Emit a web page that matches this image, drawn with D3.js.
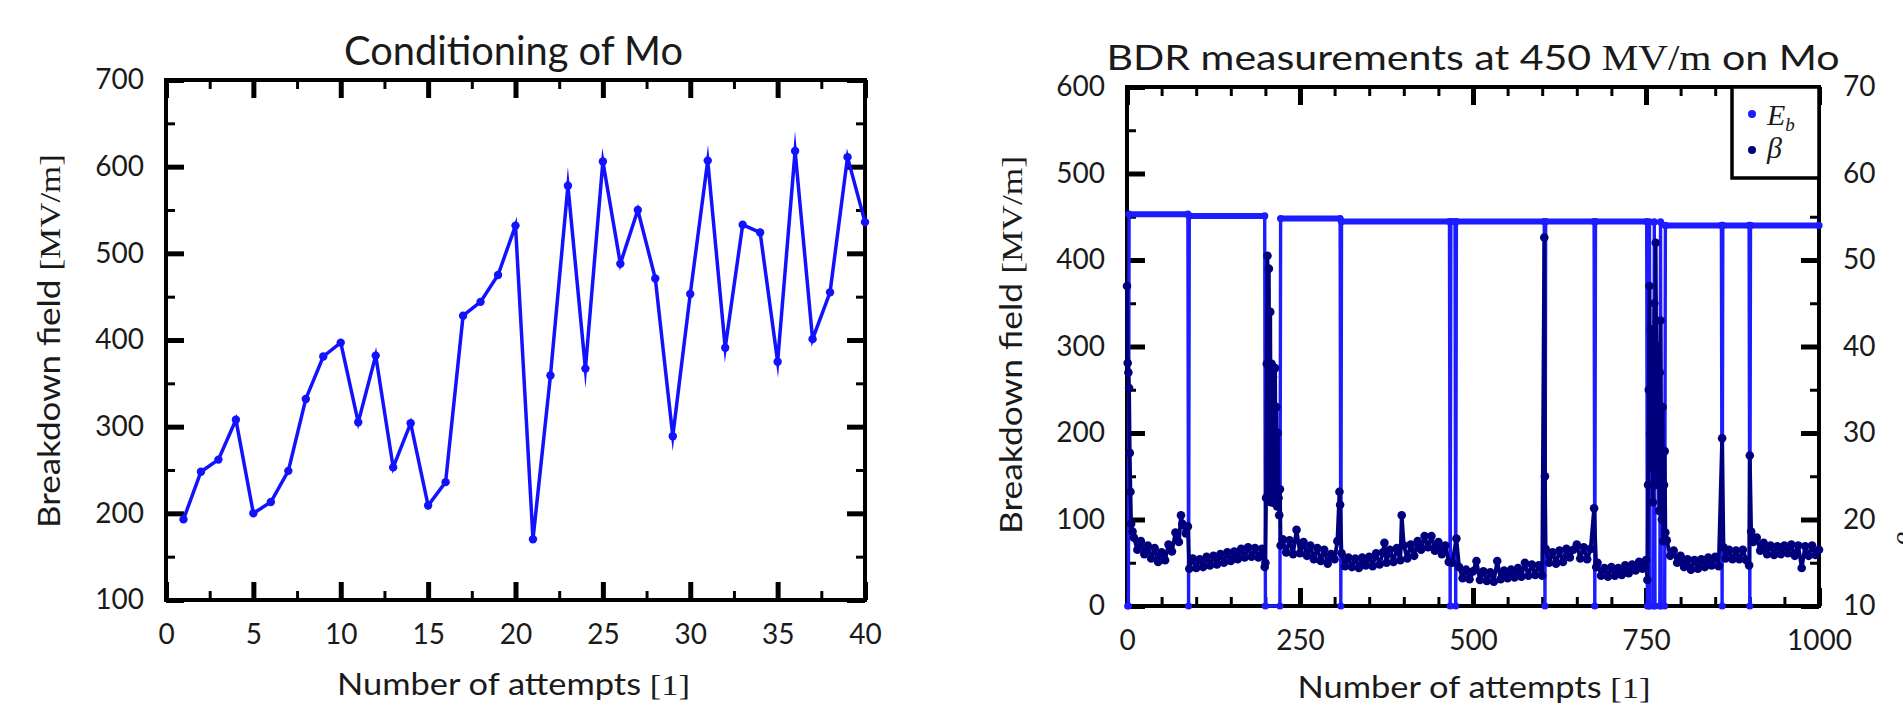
<!DOCTYPE html>
<html><head><meta charset="utf-8">
<script src="https://cdn.jsdelivr.net/npm/d3@7"></script>
<style>
html,body{margin:0;padding:0;background:#fff;overflow:hidden;}
svg{display:block;}
</style></head><body>
<svg id="chart" width="1903" height="713"></svg>
<script>
// ---------- data : left panel ----------
const condAttempts = [1,2,3,4,5,6,7,8,9,10,11,12,13,14,15,16,17,18,19,20,21,22,23,24,25,26,27,28,29,30,31,32,33,34,35,36,37,38,39,40];
const condField = [193,248,262,308,200,213,249,332,381,397,305,382,253,304,209,236,428,444,475,532,170,359,578,367,606,488,550,471,289,453,607,391,533,524,375,618,401,455,611,536];
const condXTicks = [0,5,10,15,20,25,30,35,40];
const condYTicks = [100,200,300,400,500,600,700];

// ---------- data : right panel ----------
const ebAttempts = [1,2,3,88,89,90,199,200,221,222,308,309,310,466,467,468,474,475,476,603,604,605,675,676,677,
  751,752,754,755,756,761,762,763,770,771,772,777,778,859,860,861,899,900,901,1000];
const ebField   = [0,0,453,453,0,451,451,0,0,448,448,0,444.5,444.5,0,444.5,444.5,0,444.5,444.5,0,444.5,444.5,0,444.5,
  444.5,0,0,444,0,0,444,0,0,444,0,0,440,440,0,440,440,0,440,440];

const betaAttempts = [0,1,2,3,4,5,6,8,10,15,20,25,30,35,40,45,50,55,60,65,70,75,78,80,85,88,
  90,95,100,105,110,115,120,125,130,135,140,145,150,155,160,165,170,175,180,185,190,195,199,
  200,201,202,203,204,205,206,207,208,209,210,211,212,213,214,215,216,217,218,219,220,221,222,
  225,230,235,240,245,250,255,260,265,270,275,280,285,290,295,300,304,307,308,
  310,315,320,325,330,335,340,345,350,355,360,365,370,372,375,380,385,390,395,397,
  400,405,410,415,420,425,430,435,440,445,450,455,460,465,470,476,
  480,485,490,495,500,505,510,515,520,525,530,535,540,545,550,555,560,565,570,575,580,585,590,595,600,603,604,
  605,610,615,620,625,630,635,640,645,650,655,660,665,670,675,678,
  680,685,690,695,700,705,710,715,720,725,730,735,740,745,750,
  752,753,754,755,756,757,758,759,760,761,762,763,764,765,766,767,768,769,770,771,772,773,774,775,776,777,778,779,
  780,785,790,795,800,805,810,815,820,825,830,835,840,845,850,855,860,
  862,865,870,875,880,885,890,895,899,900,902,905,910,915,920,925,930,935,940,945,950,955,960,965,970,975,980,985,990,995,1000];
const betaValues = [47,38.1,37,35.2,27.7,23.2,19.5,18.6,17.9,16.5,17.5,16.0,17.0,15.5,16.7,15.1,16.2,15.3,17.1,16.3,18.5,17.4,20.5,19.5,18.4,19.2,
  14.3,15.5,14.4,15.4,14.5,15.7,14.7,15.8,14.8,16.0,15.0,16.2,15.2,16.3,15.4,16.6,15.6,16.8,15.7,16.7,15.6,16.6,14.5,
  15.0,22.5,38.0,50.5,23.0,49.0,28.0,44.0,22.0,38.0,23.0,36.5,21.9,30.4,37.5,24.0,33.0,21.5,30.0,22.5,20.5,23.5,17.0,
  17.7,16.2,17.6,16.0,18.8,16.1,17.4,15.8,17.0,15.4,16.7,15.2,16.5,14.9,16.0,15.4,17.5,23.2,21.7,
  16.1,14.6,15.6,14.5,15.5,14.4,15.6,14.7,15.7,14.6,16.1,14.8,16.2,17.3,15.0,16.5,15.1,16.7,15.3,20.5,
  17.0,15.5,17.1,15.8,17.5,16.5,18.1,16.8,18.1,16.4,17.4,16.0,17.0,15.1,15.0,17.8,
  14.5,13.2,14.2,13.1,14.0,15.2,13.0,14.0,12.9,13.9,12.8,15.2,13.1,14.1,13.2,14.2,13.3,14.4,13.4,15.0,13.5,14.8,13.6,14.7,13.5,52.6,25.0,
  16.6,15.0,16.2,14.9,16.4,15.1,16.6,15.6,16.5,17.1,15.5,16.8,15.4,16.6,21.3,14.5,
  15.0,13.5,14.4,13.4,14.5,13.5,14.4,13.6,14.7,13.8,14.8,14.1,15.1,14.3,15.3,
  13.0,24.0,35.0,47.0,30.0,42.0,26.0,38.0,22.0,34.0,45.0,28.0,52.0,36.0,24.0,40.0,30.0,21.0,37.0,43.0,26.0,20.0,33.0,17.5,24.0,27.9,18.5,17.6,
  17.6,15.8,16.4,15.0,15.8,14.5,15.4,14.2,15.3,14.3,15.4,14.5,15.6,14.7,15.7,14.6,29.4,
  16.8,15.5,16.5,15.4,16.4,15.4,16.5,15.3,14.7,27.4,18.6,17.4,17.9,16.4,17.3,16.0,17.0,15.9,16.9,16.0,17.0,16.1,17.1,15.8,17.0,14.4,16.9,15.8,17.0,15.9,16.5];

const bdrXTicks = [0,250,500,750,1000];
const bdrYTicks = [0,100,200,300,400,500,600];
const bdrY2Ticks = [10,20,30,40,50,60,70];

// ---------- layout ----------
const svg = d3.select("#chart");
const FONT = "Lato";
const SERIF = "Liberation Serif";
const L = {x0:166, x1:865, y0:80, y1:600};
const R = {x0:1127, x1:1819, y0:87, y1:606};
const BLUE = "#1c1cff", NAVY = "#00007c", LBLUE = "#1212ff";

const xL = d3.scaleLinear().domain([0,40]).range([L.x0,L.x1]);
const yL = d3.scaleLinear().domain([100,700]).range([L.y1,L.y0]);
const xR = d3.scaleLinear().domain([0,1000]).range([R.x0,R.x1]);
const yR = d3.scaleLinear().domain([0,600]).range([R.y1,R.y0]);
const yR2 = d3.scaleLinear().domain([10,70]).range([R.y1,R.y0]);

function frame(b){
  svg.append("rect").attr("x",b.x0).attr("y",b.y0).attr("width",b.x1-b.x0).attr("height",b.y1-b.y0)
    .attr("fill","none").attr("stroke","#000").attr("stroke-width",4);
}
function axis(scale, orient, pos, values, size, width, withLabels, pad){
  const gen = {bottom:d3.axisBottom, top:d3.axisTop, left:d3.axisLeft, right:d3.axisRight}[orient];
  const ax = gen(scale).tickValues(values).tickSize(-size).tickPadding(pad||0)
    .tickFormat(withLabels ? d3.format("d") : () => "");
  const g = svg.append("g")
    .attr("transform", (orient==="bottom"||orient==="top") ? `translate(0,${pos})` : `translate(${pos},0)`)
    .call(ax);
  g.select(".domain").remove();
  g.selectAll(".tick line").attr("stroke","#000").attr("stroke-width",width);
  g.selectAll(".tick text").attr("font-size",28).attr("font-family",FONT).attr("fill","#1a1a1a");
  return g;
}
function label(x,y,rot,parts,size,len){
  const t = svg.append("text").attr("transform",`translate(${x},${y}) rotate(${rot})`)
    .attr("text-anchor","middle").attr("font-size",size).attr("fill","#1a1a1a");
  parts.forEach(p => t.append("tspan").text(p.t).attr("font-family", p.serif ? SERIF : FONT));
  if (len) t.attr("textLength",len).attr("lengthAdjust","spacingAndGlyphs");
  return t;
}
const MAJ = 18, MIN = 9, MAJW = 5, MINW = 3;

// ---------- left panel ----------
frame(L);
const lxMinor = d3.range(2.5,40,5);
const lyMinor = d3.range(150,700,100);
axis(xL,"bottom",L.y1,condXTicks,MAJ,MAJW,true,24);
axis(xL,"bottom",L.y1,lxMinor,MIN,MINW,false);
axis(xL,"top",L.y0,condXTicks,MAJ,MAJW,false);
axis(xL,"top",L.y0,lxMinor,MIN,MINW,false);
axis(yL,"left",L.x0,condYTicks,MAJ,MAJW,true,22);
axis(yL,"left",L.x0,lyMinor,MIN,MINW,false);
axis(yL,"right",L.x1,condYTicks,MAJ,MAJW,false);
axis(yL,"right",L.x1,lyMinor,MIN,MINW,false);

const condData = condAttempts.map((a,i)=>({a, v:condField[i]}));
svg.append("path").datum(condData)
  .attr("d", d3.line().x(d=>xL(d.a)).y(d=>yL(d.v)))
  .attr("fill","none").attr("stroke",LBLUE).attr("stroke-width",3.5)
  .attr("stroke-linejoin","miter").attr("stroke-miterlimit",12);
svg.append("g").selectAll("circle").data(condData).join("circle")
  .attr("cx",d=>xL(d.a)).attr("cy",d=>yL(d.v)).attr("r",4.2).attr("fill",LBLUE);

label((L.x0+L.x1)/2-2, 65, 0, [{t:"Conditioning of Mo"}], 41, 339);
label((L.x0+L.x1)/2-2, 695, 0, [{t:"Number of attempts "},{t:"[1]",serif:true}], 30, 353);
label(60, 341, -90, [{t:"Breakdown field "},{t:"[MV/m]",serif:true}], 30, 374);

// ---------- right panel ----------
frame(R);
const rxMinor = d3.range(50,1000,50).filter(v=>v%250!==0);
const ryMinor = d3.range(50,600,100);
const ry2Minor = d3.range(15,70,10);
axis(xR,"bottom",R.y1,bdrXTicks,MAJ,MAJW,true,24);
axis(xR,"bottom",R.y1,rxMinor,MIN,MINW,false);
axis(xR,"top",R.y0,bdrXTicks,MAJ,MAJW,false);
axis(xR,"top",R.y0,rxMinor,MIN,MINW,false);
axis(yR,"left",R.x0,bdrYTicks,MAJ,MAJW,true,22);
axis(yR,"left",R.x0,ryMinor,MIN,MINW,false);
axis(yR2,"right",R.x1,bdrY2Ticks,MAJ,MAJW,true,24);
axis(yR2,"right",R.x1,ry2Minor,MIN,MINW,false);

const ebData = ebAttempts.map((a,i)=>({a, v:ebField[i]}));
const betaData = betaAttempts.map((a,i)=>({a, v:betaValues[i]}));

// E_b : thin drop lines, thicker band where the field stays on
svg.append("path").datum(ebData)
  .attr("d", d3.line().x(d=>xR(d.a)).y(d=>yR(d.v)))
  .attr("fill","none").attr("stroke",BLUE).attr("stroke-width",3.4)
  .attr("stroke-linejoin","round");
const ebOn = d3.pairs(ebData).filter(([p,q]) => p.v>0 && q.v>0);
svg.append("g").selectAll("line").data(ebOn).join("line")
  .attr("x1",d=>xR(d[0].a)).attr("x2",d=>xR(d[1].a))
  .attr("y1",d=>yR(d[0].v)).attr("y2",d=>yR(d[1].v))
  .attr("stroke",BLUE).attr("stroke-width",6).attr("stroke-linecap","round");
svg.append("g").selectAll("circle").data(ebData).join("circle")
  .attr("cx",d=>xR(d.a)).attr("cy",d=>yR(d.v)).attr("r",3.6).attr("fill",BLUE);

svg.append("path").datum(betaData)
  .attr("d", d3.line().x(d=>xR(d.a)).y(d=>yR2(d.v)))
  .attr("fill","none").attr("stroke",NAVY).attr("stroke-width",3.8)
  .attr("stroke-linejoin","round");
svg.append("g").selectAll("circle").data(betaData).join("circle")
  .attr("cx",d=>xR(d.a)).attr("cy",d=>yR2(d.v)).attr("r",4.3).attr("fill",NAVY);

// legend
svg.append("rect").attr("x",1732).attr("y",R.y0).attr("width",R.x1-1732).attr("height",91)
  .attr("fill","#fff").attr("stroke","#000").attr("stroke-width",3.5);
svg.append("circle").attr("cx",1752).attr("cy",114).attr("r",4).attr("fill",BLUE);
svg.append("circle").attr("cx",1752).attr("cy",150).attr("r",4).attr("fill",NAVY);
const le = svg.append("text").attr("x",1767).attr("y",125).attr("font-size",30)
  .attr("font-family",SERIF).attr("font-style","italic").attr("fill","#1a1a1a");
le.append("tspan").text("E");
le.append("tspan").text("b").attr("font-size",19).attr("dy",6);
svg.append("text").attr("x",1767).attr("y",158).attr("font-size",30)
  .attr("font-family",SERIF).attr("font-style","italic").attr("fill","#1a1a1a").text("β");

label(1473, 70, 0, [{t:"BDR measurements at 450 "},{t:"MV/m",serif:true},{t:" on Mo"}], 35, 733);
label(1474, 698, 0, [{t:"Number of attempts "},{t:"[1]",serif:true}], 30, 353);
label(1022, 345, -90, [{t:"Breakdown field "},{t:"[MV/m]",serif:true}], 30, 378);
// right-axis title, almost entirely outside the picture (as in the reference)
svg.append("text").attr("transform","translate(1918,540) rotate(-90)").attr("text-anchor","middle")
  .attr("font-size",30).attr("font-family",SERIF).attr("font-style","italic").attr("fill","#1a1a1a").text("β");
</script>
</body></html>
